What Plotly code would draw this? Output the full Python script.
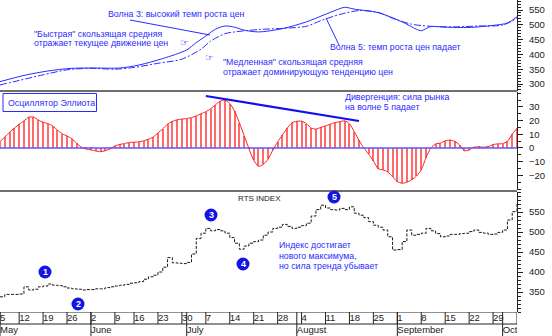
import plotly.graph_objects as go
import pandas as pd

W, H = 552, 336
PLOT_W = 517  # width of plotting area (right margin holds the value axis)

BLUE = "#2b2bff"
FONT = "Liberation Sans, Arial, sans-serif"

# ---------------- data ----------------
holidays = ["1997-05-09", "1997-06-12"]
trade_dates = [d for d in pd.bdate_range("1997-05-05", "1997-10-06")
               if d.strftime("%Y-%m-%d") not in holidays]

rts_close = [338, 344, 344, 344, 345, 363, 355, 357, 363, 365, 370, 367, 366, 363, 360, 358, 357, 355,
             356, 356, 358, 358, 361, 363, 365, 367,
             369, 372, 373, 376, 382, 388, 392, 400, 412, 436, 423, 422, 421, 424, 445, 484, 497, 509,
             503, 506, 503, 497, 486, 472, 457, 465, 472, 476, 480, 492, 500, 509, 512, 519, 514, 509,
             512, 516, 522, 540, 556, 567, 560, 556, 555, 559, 556, 563, 547, 542, 536,
             526, 517, 512, 505, 488, 455, 456, 476, 505, 492, 494, 497, 509, 503, 496, 488, 490, 494,
             494, 496, 497, 501, 505, 499, 497, 494, 495, 499, 505, 530, 551, 572]

elliott_osc = [4.6, 8, 11.5, 14.5, 17.3, 19.8, 22.5, 22.6, 20.5, 18.8, 17.8, 16.2, 13, 10.3, 8.8, 6.8,
               3.5, 0.6, -0.8, -1.4, -2.2, -2.7, -2, -0.6, 1.5, 2.6, 3.2,
               4.0, 4.2, 4.5, 5.2, 6.4, 8, 11, 14, 17.4, 19.4, 20.6, 21.1, 21.5, 22.2, 23.4, 25, 26.5,
               28.6, 31.5, 34.2, 35, 32.5, 27, 18.6, 9, -0.5, -9, -13.4, -12, -8.2, -1.5, 4.5, 9.5,
               14.5, 18.5, 19.5, 19.6, 17.8, 14.5, 13.8, 15, 16.2, 17.4, 18.6, 19.2, 19.9, 17.8, 12,
               5.5, 0, -4.5, -9.5,
               -15.2, -16, -17.5, -21, -24.5, -25.8, -25, -23.2, -20.5, -16, -7, 0, 3, 3.6, 5.2, 5.8,
               4.8, 2.2, -2, -1.5, 0.6, 0.8, 0.6, 1, 2.5, 3, 3.2, 4.8, 10, 14.4]

fast_ma_dates = ["1997-05-05", "1997-05-13", "1997-05-20", "1997-05-27", "1997-06-03", "1997-06-10",
                 "1997-06-17", "1997-06-24", "1997-07-01", "1997-07-03", "1997-07-07", "1997-07-09",
                 "1997-07-11", "1997-07-15", "1997-07-17", "1997-07-22", "1997-07-29", "1997-08-05",
                 "1997-08-12", "1997-08-15", "1997-08-19", "1997-08-26", "1997-09-02", "1997-09-05",
                 "1997-09-08", "1997-09-10", "1997-09-15", "1997-09-22", "1997-09-29", "1997-10-02",
                 "1997-10-06"]
fast_ma = [308, 329, 344, 353, 354, 354, 364, 386, 415, 440, 462, 485, 496, 492, 482, 476, 487, 510,
           542, 559, 553, 541, 510, 485, 480, 494, 492, 491, 498, 506, 527]

slow_ma_dates = ["1997-05-05", "1997-05-12", "1997-05-19", "1997-05-26", "1997-06-02", "1997-06-09",
                 "1997-06-16", "1997-06-23", "1997-06-30", "1997-07-04", "1997-07-08", "1997-07-11",
                 "1997-07-15", "1997-07-22", "1997-07-29", "1997-08-05", "1997-08-08", "1997-08-14",
                 "1997-08-20", "1997-08-26", "1997-08-29", "1997-09-04", "1997-09-10", "1997-09-17",
                 "1997-09-24", "1997-10-01", "1997-10-06"]
slow_ma = [297, 312, 331, 348, 353, 350, 356, 370, 384, 418, 445, 470, 476, 484, 488, 495, 514, 535,
           548, 542, 522, 502, 495, 493, 496, 499, 522]

divergence_dates = ["1997-07-07", "1997-08-20"]
divergence_levels = [38, 19.7]

week_dates = ["1997-05-05", "1997-05-12", "1997-05-19", "1997-05-26", "1997-06-02", "1997-06-09",
              "1997-06-16", "1997-06-23", "1997-06-30", "1997-07-07", "1997-07-14", "1997-07-21",
              "1997-07-28", "1997-08-04", "1997-08-11", "1997-08-18", "1997-08-25", "1997-09-01",
              "1997-09-08", "1997-09-15", "1997-09-22", "1997-09-29", "1997-10-06"]
week_labels = ["5", "12", "19", "26", "2", "9", "16", "23", "30", "7", "14", "21", "28", "4", "11",
               "18", "25", "1", "8", "15", "22", "29", "6"]
month_dates = ["1997-05-05", "1997-06-02", "1997-07-01", "1997-08-01", "1997-09-01", "1997-10-01"]
month_labels = ["May", "June", "July", "August", "September", "October"]

top_ticks = [300, 350, 400, 450, 500, 550]
osc_ticks = [-20, -10, 0, 10, 20, 30]
rts_ticks = [350, 400, 450, 500, 550]

wave_labels = ["1", "2", "3", "4", "5"]

# ---------------- helpers (pixel -> paper) ----------------
def px(x):
    return x / PLOT_W


def py(y):
    return 1 - y / H


fig = go.Figure()

# top panel: moving averages
fig.add_trace(go.Scatter(x=fast_ma_dates, y=fast_ma, mode="lines", yaxis="y",
                         line=dict(color=BLUE, width=1, shape="spline", smoothing=0.8)))
fig.add_trace(go.Scatter(x=slow_ma_dates, y=slow_ma, mode="lines", yaxis="y",
                         line=dict(color=BLUE, width=1, shape="spline", smoothing=0.8,
                                   dash="7px,2px,2px,2px")))

# middle panel: Elliott oscillator
fig.add_trace(go.Bar(x=trade_dates, y=elliott_osc, yaxis="y2", width=0.22 * 86400000,
                     marker=dict(color="#ff6a6a", line=dict(width=0))))
fig.add_trace(go.Scatter(x=trade_dates, y=elliott_osc, mode="lines", yaxis="y2",
                         line=dict(color="#ff2020", width=1, shape="spline", smoothing=0.6)))
fig.add_trace(go.Scatter(x=divergence_dates, y=divergence_levels, mode="lines", yaxis="y2",
                         line=dict(color="#1010ee", width=2.2)))

# bottom panel: RTS index
fig.add_trace(go.Scatter(x=trade_dates, y=rts_close, mode="lines", yaxis="y3",
                         line=dict(color="#1a1a1a", width=1, shape="hv", dash="3px,1.5px")))

# axis-row labels (clipped to the plotting area)
fig.add_trace(go.Scatter(x=week_dates, y=[7] * len(week_dates), mode="text", text=week_labels,
                         textposition="middle right", yaxis="y4", cliponaxis=True,
                         textfont=dict(family=FONT, size=9.5, color="#222")))
fig.add_trace(go.Scatter(x=month_dates, y=[18.5] * len(month_dates), mode="text", text=month_labels,
                         textposition="middle right", yaxis="y4", cliponaxis=True,
                         textfont=dict(family=FONT, size=9.5, color="#222")))

shapes = []
# axis row grid
for d in week_dates:
    shapes.append(dict(type="line", xref="x", yref="y4", x0=d, x1=d, y0=0, y1=12,
                       line=dict(color="#222", width=1)))
for d in month_dates:
    shapes.append(dict(type="line", xref="x", yref="y4", x0=d, x1=d, y0=0, y1=24,
                       line=dict(color="#222", width=1)))
shapes.append(dict(type="line", xref="paper", yref="y4", x0=0, x1=1, y0=0, y1=0,
                   line=dict(color="#222", width=1.2)))
shapes.append(dict(type="line", xref="paper", yref="y4", x0=0, x1=1, y0=12, y1=12,
                   line=dict(color="#222", width=1)))
# panel separators
for ysep in (91, 191):
    shapes.append(dict(type="line", xref="paper", yref="paper", x0=0, x1=1, y0=py(ysep), y1=py(ysep),
                       line=dict(color="#6e6e6e", width=2)))
# oscillator zero line
shapes.append(dict(type="line", xref="paper", yref="y2", x0=0, x1=1, y0=0, y1=0,
                   line=dict(color="#5a5aff", width=1.6)))
# oscillator title box
shapes.append(dict(type="rect", xref="paper", yref="paper", x0=px(3), x1=px(96.5), y0=py(111.5),
                   y1=py(93.5), line=dict(color=BLUE, width=1), fillcolor="white"))
# leader lines
shapes.append(dict(type="line", xref="paper", yref="paper", x0=px(130), y0=py(20), x1=px(210), y1=py(35),
                   line=dict(color=BLUE, width=1)))
shapes.append(dict(type="line", xref="paper", yref="paper", x0=px(326), y0=py(18), x1=px(339), y1=py(45),
                   line=dict(color=BLUE, width=1)))

wave_pos = [(45, 272), (78, 304), (211, 215), (243, 264), (334, 197)]
r = 6.5
annotations = []
for lab, (cx, cy) in zip(wave_labels, wave_pos):
    shapes.append(dict(type="circle", xref="paper", yref="paper", x0=px(cx - r), x1=px(cx + r),
                       y0=py(cy + r), y1=py(cy - r), fillcolor="#1414e6", line=dict(width=0)))
    annotations.append(dict(text="<b>%s</b>" % lab, x=px(cx), y=py(cy), xref="paper", yref="paper",
                            showarrow=False, xanchor="center", yanchor="middle",
                            font=dict(family=FONT, size=9, color="white")))


def ann(text, x, y, size=8.8, color=BLUE, anchor="left", family=FONT):
    annotations.append(dict(text=text, x=px(x), y=py(y), xref="paper", yref="paper", showarrow=False,
                            xanchor=anchor, yanchor="middle",
                            font=dict(family=family, size=size, color=color)))


ann("Волна 3: высокий темп роста цен", 106, 14)
ann("\"Быстрая\" скользящая средняя", 32, 34)
ann("отражает текущее движение цен", 32, 43.5)
ann("\"Медленная\" скользящая средняя", 221, 62)
ann("отражает доминирующую тенденцию цен", 221, 72)
ann("Волна 5: темп роста цен падает", 328, 47)
ann("☞", 178, 42, size=10, family="DejaVu Sans")
ann("☞", 203, 57, size=10, family="DejaVu Sans")
ann("Осциллятор Эллиота", 6, 102.5)
ann("Дивергенция: сила рынка", 343, 97.5)
ann("на волне 5 падает", 343, 107.5)
ann("RTS INDEX", 259, 198, size=8, color="#222", anchor="center")
ann("Индекс достигает", 277, 245)
ann("нового максимума,", 277, 255.5)
ann("но сила тренда убывает", 277, 266)

yax_common = dict(side="right", anchor="x", showline=True, linecolor="#222", linewidth=1,
                  ticks="outside", ticklen=5, tickcolor="#222", showgrid=False, zeroline=False,
                  tickfont=dict(family=FONT, size=9.5, color="#222"), ticklabelstandoff=4,
                  fixedrange=True)

fig.update_layout(
    width=W, height=H, margin=dict(l=0, r=W - PLOT_W, t=0, b=0),
    paper_bgcolor="white", plot_bgcolor="white", showlegend=False, bargap=0,
    font=dict(family=FONT),
    xaxis=dict(domain=[0, 1], anchor="y4", type="date", range=["1997-05-05", "1997-10-06"],
               rangebreaks=[dict(bounds=["sat", "mon"]), dict(values=holidays)],
               showticklabels=False, showgrid=False, zeroline=False, ticks="", showline=False),
    yaxis=dict(domain=[1 - 91 / H, 1], range=[276.4, 583.8], tickvals=top_ticks,
               minor=dict(dtick=10, ticklen=2.5, ticks="outside", tickcolor="#222"), **yax_common),
    yaxis2=dict(domain=[1 - 190 / H, 1 - 92 / H], range=[-30.7, 40.9], tickvals=osc_ticks,
                minor=dict(dtick=5, ticklen=2.5, ticks="outside", tickcolor="#222"), **yax_common),
    yaxis3=dict(domain=[1 - 312 / H, 1 - 192 / H], range=[300, 600], tickvals=rts_ticks,
                minor=dict(dtick=10, ticklen=2.5, ticks="outside", tickcolor="#222"), **yax_common),
    yaxis4=dict(domain=[0, 1 - 312 / H], range=[24, 0], visible=False, anchor="x", fixedrange=True),
    shapes=shapes, annotations=annotations,
)

fig.write_html("out.html")
